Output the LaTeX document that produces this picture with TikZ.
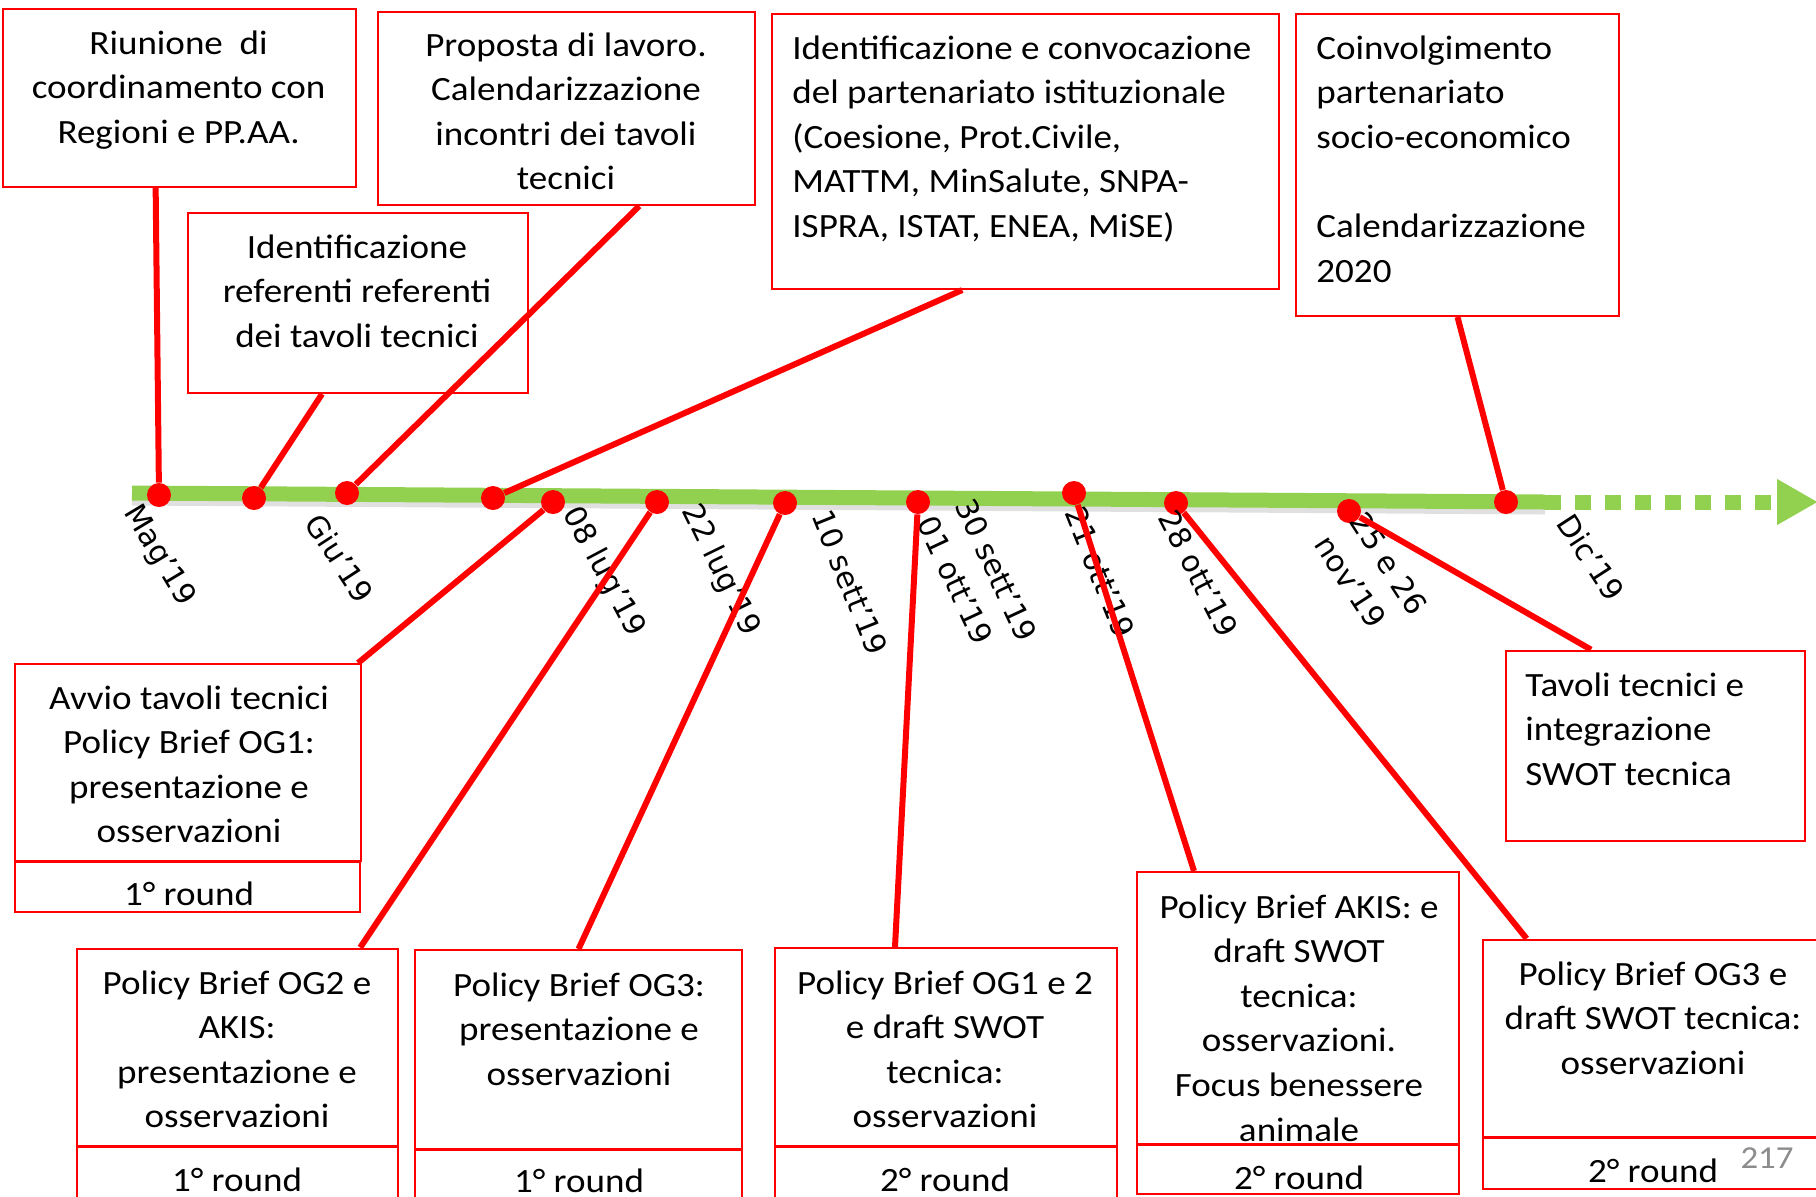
\documentclass[tikz,border=0pt]{standalone}
\usepackage{fontspec}
\setmainfont{Carlito}[FakeStretch=1.09]
\newfontfamily\datefont{DejaVu Sans}
\usetikzlibrary{arrows.meta,fit}
\definecolor{barg}{RGB}{146,208,80}
\definecolor{pagenum}{RGB}{140,140,140}

\begin{document}
\begin{tikzpicture}[x=0.5pt,y=-0.5pt,
  bx/.style={draw=red,line width=1pt,inner sep=0pt},
  tx/.style={font=\fontsize{17}{22.3}\selectfont,inner sep=0pt,align=center,anchor=north},
  txl/.style={tx,align=left,anchor=north west},
  dl/.style={font=\datefont\fontsize{15}{21}\selectfont,inner sep=0pt,align=left,anchor=west},
  ln/.style={draw=red,line width=3pt},
  dot/.style={circle,fill=red,minimum size=12pt,inner sep=0pt},
  gbar/.style={draw=barg,line width=7.5pt}]
  \useasboundingbox (0,0) rectangle (1816,1196);
  \clip (0,0) rectangle (1816,1196);

  % timeline bar with its shadow, dotted tail and arrow
  \coordinate (t0) at (132,493);
  \coordinate (t1) at (1545,502);
  \coordinate (t2) at (1818,502);
  \draw[line width=7.5pt,black!30,opacity=0.4] ([yshift=-2.5pt]t0) -- ([yshift=-2.5pt]t1);
  \draw[gbar] (t0) -- (t1);
  \draw[gbar,dash pattern=on 8pt off 7pt,-{Triangle[length=20.5pt,width=21.5pt]}] (t1) -- (t2);

  % milestones on the bar
  \foreach \n/\x/\y in {1/159/495,2/254/498,3/347/493,4/493/498,5/553/502,6/657/502,
                        7/785/503,8/918/502,9/1074/493,10/1176/503,11/1349/511,12/1506/502}
    \node[dot] (d\n) at (\x,\y) {};

  % dates
  \foreach \x/\y/\a/\t [count=\i] in {130/508/-59/Mag’19, 313/517/-57/Giu’19,
      570/509/-62/08 lug’19, 689/506/-64/22 lug’19, 821/511/-68/10 sett’19,
      945/509/-65/{30 sett’19\\01 ott’19}, 1074/508/-68/21 ott’19, 1167/512/-63/28 ott’19,
      1340/527/-57/{25 e 26\\nov’19}, 1565/517/-57/Dic’19}
    \node[dl,rotate=\a] (l\i) at (\x,\y) {\t};

  % upper boxes
  \node[bx,fit={(2.5,9.3)(355.6,187)}] (b1) {};
  \node[tx] (b1t) at (178.6,30) {Riunione\ \ di\\coordinamento con\\Regioni e PP.AA.};
  \node[bx,fit={(188,213)(528,393)}] (b2) {};
  \node[tx] (b2t) at (357,234) {Identificazione\\referenti referenti\\dei tavoli tecnici};
  \node[bx,fit={(377.5,12)(755,205)}] (b3) {};
  \node[tx] (b3t) at (566,32) {Proposta di lavoro.\\Calendarizzazione\\incontri dei tavoli\\tecnici};
  \node[bx,fit={(772,14)(1278.5,289)}] (b4) {};
  \node[txl] (b4t) at (792,35) {Identificazione e convocazione\\del partenariato istituzionale\\(Coesione, Prot.Civile,\\MATTM, MinSalute, SNPA-\\ISPRA, ISTAT, ENEA, MiSE)};
  \node[bx,fit={(1296,14)(1619,316)}] (b5) {};
  \node[txl] (b5t) at (1316,35) {Coinvolgimento\\partenariato\\socio-economico\\[22.3pt]Calendarizzazione\\2020};

  % lower boxes, each with its round
  \node[bx,fit={(15,664)(361,861)}] (bA) {};
  \node[tx] (bAt) at (189,685) {Avvio tavoli tecnici\\Policy Brief OG1:\\presentazione e\\osservazioni};
  \node[bx,fit={(15,862)(360,912)}] (rA) {};
  \node[tx] (rAt) at (189,881) {1° round};
  \node[bx,fit={(76.5,948.5)(398,1146)}] (bB) {};
  \node[tx] (bBt) at (237,970) {Policy Brief OG2 e\\AKIS:\\presentazione e\\osservazioni};
  \node[bx,fit={(76.5,1147)(398,1215)}] (rB) {};
  \node[tx] (rBt) at (237,1167) {1° round};
  \node[bx,fit={(415,950)(742,1149)}] (bC) {};
  \node[tx] (bCt) at (579,972) {Policy Brief OG3:\\presentazione e\\osservazioni};
  \node[bx,fit={(415,1150)(742,1215)}] (rC) {};
  \node[tx] (rCt) at (579,1168) {1° round};
  \node[bx,fit={(775,948)(1117,1146)}] (bD) {};
  \node[tx] (bDt) at (945,970) {Policy Brief OG1 e 2\\e draft SWOT\\tecnica:\\osservazioni};
  \node[bx,fit={(775,1147)(1117,1215)}] (rD) {};
  \node[tx] (rDt) at (945,1167) {2° round};
  \node[bx,fit={(1137,872)(1459,1143.5)}] (bE) {};
  \node[tx] (bEt) at (1299,894) {Policy Brief AKIS: e\\draft SWOT\\tecnica:\\osservazioni.\\Focus benessere\\animale};
  \node[bx,fit={(1137,1144.5)(1459,1194)}] (rE) {};
  \node[tx] (rEt) at (1299,1165) {2° round};
  \node[bx,fit={(1482.6,939.6)(1830,1137)}] (bF) {};
  \node[tx] (bFt) at (1653,961) {Policy Brief OG3 e\\draft SWOT tecnica:\\osservazioni};
  \node[bx,fit={(1482.6,1138)(1830,1189)}] (rF) {};
  \node[tx] (rFt) at (1653,1158) {2° round};
  \node[bx,fit={(1506,650.6)(1805,841)}] (bG) {};
  \node[txl] (bGt) at (1525,672) {Tavoli tecnici e\\integrazione\\SWOT tecnica};
  \node[font=\fontsize{16}{18}\selectfont,text=pagenum,anchor=base,inner sep=0pt] (pg) at (1767,1168) {217};

  % connectors
  \draw[ln] ([xshift=-11.7pt]b1.south) -- (d1);
  \draw[ln] ([xshift=-18pt]b2.south) -- (d2);
  \draw[ln] ([xshift=36.5pt]b3.south) -- (d3);
  \draw[ln] ([xshift=-31.5pt]b4.south) -- (d4);
  \draw[ln] (b5.south) -- (d12);
  \draw[ln] (d5) -- ([xshift=-2pt]bA.north east);
  \draw[ln] (d6) -- ([xshift=61.5pt]bB.north);
  \draw[ln] (d7) -- (bC.north);
  \draw[ln] (d8) -- ([xshift=-25.5pt]bD.north);
  \draw[ln] (d9) -- ([xshift=-52pt]bE.north);
  \draw[ln] (d10) -- ([xshift=22.5pt]bF.north west);
  \draw[ln] (d11) -- ([xshift=43pt]bG.north west);
\end{tikzpicture}
\end{document}
